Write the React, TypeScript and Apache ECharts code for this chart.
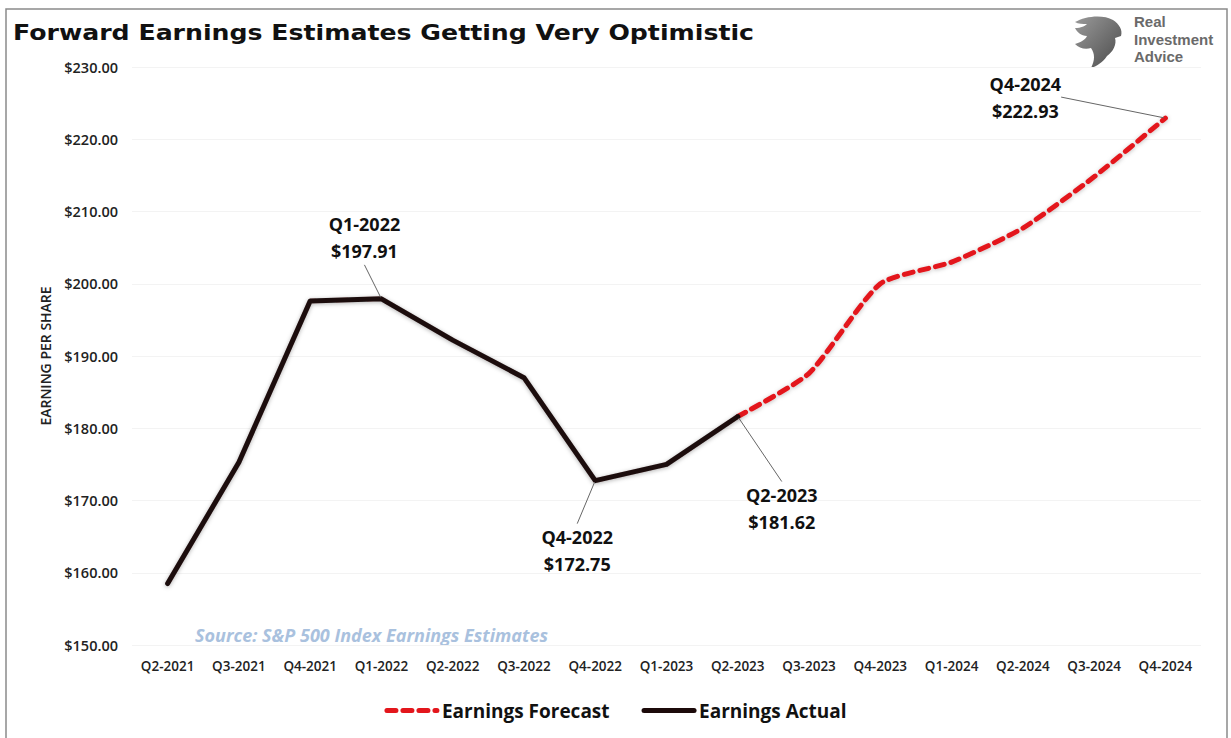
import React, { useEffect, useRef } from "react";
import * as echarts from "echarts";

const categories = [
  "Q2-2021", "Q3-2021", "Q4-2021", "Q1-2022", "Q2-2022", "Q3-2022", "Q4-2022", "Q1-2023",
  "Q2-2023", "Q3-2023", "Q4-2023", "Q1-2024", "Q2-2024", "Q3-2024", "Q4-2024",
];
// Actual earnings (Q2-2021 .. Q2-2023)
const actualValues = [158.5, 175.3, 197.6, 197.91, 192.2, 187.0, 172.75, 175.0, 181.62];
// Forecast earnings (Q2-2023 .. Q4-2024)
const forecastValues = [181.62, 187.6, 200.0, 203.0, 207.7, 214.8, 222.93];
const forecastStartIndex = 8;
const yTicks = { min: 150, max: 230, interval: 10 };
const actualLabelIdx = [3, 6, 8];
const forecastLabelIdx = [14];
const logoLines = ["Real", "Investment", "Advice"];

// label offsets (layout only)
const labelOffsets: Record<number, [number, number]> = {
  3: [-17, -61],
  6: [-18, 70],
  8: [44, 92],
  14: [-140, -21],
};

const LOGO_D =
  "M2 8 C12 2 30 0 40 6 C46 10 50 16 48 22 L42 24 C44 30 40 38 34 42 C30 48 24 52 18 54 C22 46 22 40 18 34 C12 36 6 34 2 30 C8 28 12 26 14 22 C8 22 4 18 2 14 C8 14 12 12 14 10 C10 10 5 10 2 8 Z";

let registered = false;

export default function App() {
  const ref = useRef<HTMLDivElement>(null);
  useEffect(() => {
    if (!registered) {
      echarts.graphic.registerShape("logo", echarts.graphic.extendPath(LOGO_D, {}));
      registered = true;
    }
    const chart = echarts.init(ref.current!, undefined, { renderer: "svg" });
    const font = "'Open Sans', 'Noto Sans', sans-serif";

    const labelFor = (i: number, v: number) => ({
      value: v,
      symbol: "circle",
      symbolSize: 3,
      label: {
        show: true,
        position: "inside",
        formatter: `${categories[i]}\n$${v.toFixed(2)}`,
        fontFamily: font,
        fontWeight: "bold",
        fontSize: 18,
        lineHeight: 27,
        color: "#111",
        align: "center",
      },
    });

    const actualData = categories.map((_, i) => {
      if (i >= actualValues.length) return null;
      const v = actualValues[i];
      return actualLabelIdx.includes(i) ? labelFor(i, v) : v;
    });
    const forecastData = categories.map((_, i) => {
      if (i < forecastStartIndex) return null;
      const v = forecastValues[i - forecastStartIndex];
      return forecastLabelIdx.includes(i) ? labelFor(i, v) : v;
    });

    const layout = (p: any) => {
      const o = labelOffsets[p.dataIndex];
      if (!o) return {};
      return { dx: o[0], dy: o[1] };
    };

    chart.setOption({
      animation: false,
      backgroundColor: "#ffffff",
      grid: { left: 132, right: 30, top: 67, bottom: 93 },
      legend: {
        bottom: 13,
        left: "center",
        itemWidth: 50,
        itemHeight: 14,
        itemGap: 32,
        itemStyle: { opacity: 0 },
        lineStyle: { width: 5 },
        textStyle: { fontFamily: font, fontWeight: "bold", fontSize: 19, color: "#111" },
        data: ["Earnings Forecast", "Earnings Actual"],
      },
      xAxis: {
        type: "category",
        data: categories,
        boundaryGap: true,
        axisLine: { show: false },
        axisTick: { show: false },
        axisLabel: {
          fontFamily: font,
          fontWeight: 600,
          fontSize: 13.5,
          color: "#222",
          margin: 14,
          interval: 0,
        },
      },
      yAxis: {
        type: "value",
        min: yTicks.min,
        max: yTicks.max,
        interval: yTicks.interval,
        name: "EARNING PER SHARE",
        nameLocation: "middle",
        nameGap: 80,
        nameTextStyle: { fontFamily: font, fontWeight: 600, fontSize: 14, color: "#222" },
        axisLine: { show: false },
        axisTick: { show: false },
        splitLine: { show: true, lineStyle: { color: "#f3f3f3", width: 1 } },
        axisLabel: {
          fontFamily: font,
          fontWeight: 600,
          fontSize: 14.5,
          color: "#222",
          margin: 14,
          formatter: (v: number) => "$" + v.toFixed(2),
        },
      },
      series: [
        {
          name: "Earnings Forecast",
          type: "line",
          data: forecastData,
          symbol: "none",
          smooth: 0.2,
          z: 2,
          lineStyle: {
            color: "#e3161c",
            width: 5,
            type: [9, 7],
            cap: "round",
            shadowColor: "rgba(0,0,0,0.25)",
            shadowBlur: 4,
            shadowOffsetY: 1,
          },
          itemStyle: { color: "#e3161c" },
          labelLine: { show: true, lineStyle: { color: "#666", width: 1 } },
          labelLayout: layout,
        },
        {
          name: "Earnings Actual",
          type: "line",
          data: actualData,
          symbol: "none",
          z: 3,
          lineStyle: {
            color: "#1c0a0a",
            width: 5,
            cap: "round",
            join: "round",
            shadowColor: "rgba(0,0,0,0.3)",
            shadowBlur: 4,
            shadowOffsetY: 1,
          },
          itemStyle: { color: "#1c0a0a" },
          labelLine: { show: true, lineStyle: { color: "#666", width: 1 } },
          labelLayout: layout,
        },
      ],
      graphic: [
        {
          type: "rect",
          shape: { x: 6, y: 9, width: 1221, height: 740 },
          style: { fill: "none", stroke: "#8a8a8a", lineWidth: 1.5 },
          silent: true,
          z: 0,
        },
        {
          type: "text",
          x: 13,
          y: 32.5,
          scaleX: 1.2,
          scaleY: 1,
          style: {
            text: "Forward Earnings Estimates Getting Very Optimistic",
            fontFamily: "'DejaVu Sans', sans-serif",
            fontWeight: "bold",
            fontSize: 21,
            verticalAlign: "middle",
            align: "left",
            fill: "#111",
            shadowColor: "rgba(0,0,0,0.4)",
            shadowBlur: 3,
            shadowOffsetX: 1,
            shadowOffsetY: 2,
          },
        },
        {
          type: "text",
          left: 195,
          top: 626,
          style: {
            text: "Source: S&P 500 Index Earnings Estimates",
            fontFamily: font,
            fontStyle: "italic",
            fontWeight: "bold",
            fontSize: 18,
            fill: "#a9c1de",
          },
        },
        {
          type: "logo",
          x: 1073,
          y: 14,
          scaleX: 1,
          scaleY: 1,
          style: {
            fill: new echarts.graphic.LinearGradient(0, 0, 1, 1, [
              { offset: 0, color: "#9a9a9a" },
              { offset: 1, color: "#4a4a4a" },
            ]),
          },
        },
        ...logoLines.map((t, i) => ({
          type: "text",
          left: 1134,
          top: 14 + i * 17.5,
          style: {
            text: t,
            fontFamily: "'Liberation Sans', Arial, sans-serif",
            fontWeight: "bold",
            fontSize: 15,
            lineHeight: 15,
            fill: "#6a6a6a",
          },
        })),
      ],
    });
    return () => chart.dispose();
  }, []);
  return (
    <div
      ref={ref}
      style={{ position: "fixed", left: 0, top: 0, width: 1231, height: 738 }}
    />
  );
}
